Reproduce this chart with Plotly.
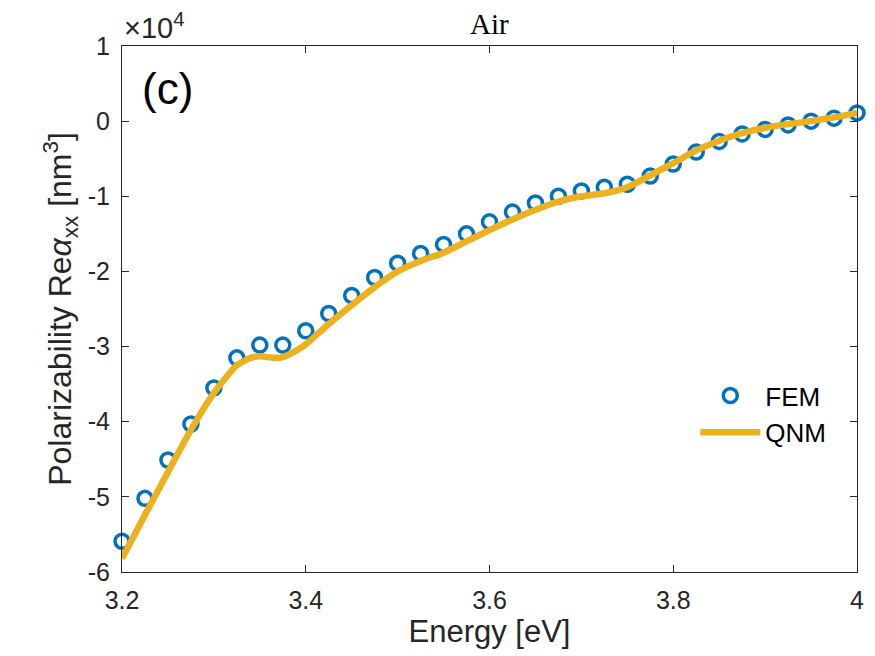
import plotly.graph_objects as go

# FEM samples (energy in eV, Re alpha_xx in units of 1e4 nm^3)
fem_energy = [3.2, 3.225, 3.25, 3.275, 3.3, 3.325, 3.35, 3.375, 3.4, 3.425, 3.45,
              3.475, 3.5, 3.525, 3.55, 3.575, 3.6, 3.625, 3.65, 3.675, 3.7, 3.725,
              3.75, 3.775, 3.8, 3.825, 3.85, 3.875, 3.9, 3.925, 3.95, 3.975, 4.0]
fem_alpha = [-5.59, -5.02, -4.51, -4.03, -3.55, -3.15, -2.98, -2.98, -2.79, -2.56, -2.32,
             -2.08, -1.89, -1.76, -1.64, -1.50, -1.34, -1.21, -1.09, -1.00, -0.93, -0.88,
             -0.84, -0.73, -0.57, -0.41, -0.27, -0.17, -0.11, -0.05, 0.0, 0.04, 0.11]

# QNM curve
qnm_energy = [3.2, 3.225, 3.25, 3.275, 3.3, 3.325, 3.34, 3.35, 3.365, 3.375, 3.39, 3.4,
              3.425, 3.45, 3.475, 3.5, 3.525, 3.55, 3.575, 3.6, 3.625, 3.65, 3.675,
              3.7, 3.725, 3.75, 3.775, 3.8, 3.825, 3.85, 3.875, 3.9, 3.925, 3.95, 3.975, 4.0]
qnm_alpha = [-5.82, -5.24, -4.67, -4.11, -3.62, -3.25, -3.15, -3.13, -3.15, -3.14, -3.05, -2.97,
             -2.70, -2.45, -2.21, -2.00, -1.86, -1.75, -1.60, -1.45, -1.31, -1.18, -1.07,
             -1.00, -0.96, -0.88, -0.72, -0.56, -0.39, -0.26, -0.16, -0.09, -0.04, 0.0, 0.05, 0.11]

x_ticks = [3.2, 3.4, 3.6, 3.8, 4.0]
x_labels = ['3.2', '3.4', '3.6', '3.8', '4']
y_ticks = [-6, -5, -4, -3, -2, -1, 0, 1]
y_labels = ['-6', '-5', '-4', '-3', '-2', '-1', '0', '1']

font_main = 'Liberation Sans, Arial, sans-serif'
ink = '#262626'

fig = go.Figure()
fig.add_trace(go.Scatter(
    x=fem_energy, y=fem_alpha, mode='markers', name='FEM', cliponaxis=False,
    marker=dict(symbol='circle-open', size=14, color='#0072BD', line=dict(width=3.5, color='#0072BD'))
))
fig.add_trace(go.Scatter(
    x=qnm_energy, y=qnm_alpha, mode='lines', name='QNM',
    line=dict(color='#EDB120', width=6.5, shape='spline', smoothing=0.6)
))

axis_style = dict(showline=True, linecolor=ink, linewidth=1.2, mirror='ticks',
                  ticks='inside', ticklen=7, tickcolor=ink, showgrid=False, zeroline=False,
                  tickfont=dict(size=25, color=ink, family=font_main))

fig.update_xaxes(range=[3.2, 4.0], tickvals=x_ticks, ticktext=x_labels, ticklabelstandoff=6,
                 title=dict(text='Energy [eV]', font=dict(size=31, color=ink, family=font_main), standoff=0),
                 **axis_style)
fig.update_yaxes(range=[-6, 1], tickvals=y_ticks, ticktext=y_labels, ticklabelstandoff=6,
                 title=dict(text='Polarizability Re<i>α</i><sub>xx</sub> [nm<sup>3</sup>]',
                            font=dict(size=32, color=ink, family=font_main), standoff=6),
                 **axis_style)

fig.add_annotation(x=0, y=1, xref='paper', yref='paper', xanchor='left', yanchor='bottom',
                   text='×10<sup>4</sup>', showarrow=False, yshift=0,
                   font=dict(size=29, color=ink, family=font_main))
fig.add_annotation(x=0.024, y=0.97, xref='paper', yref='paper', xanchor='left', yanchor='top',
                   text='(c)', showarrow=False,
                   font=dict(size=44, color='black', family=font_main))
fig.add_annotation(x=0.5, y=1, xref='paper', yref='paper', xanchor='center', yanchor='bottom',
                   text='Air', showarrow=False, yshift=4,
                   font=dict(size=29, color='black', family='Liberation Serif, DejaVu Serif, serif'))

fig.update_layout(
    width=875, height=656,
    margin=dict(l=114, r=26, t=38, b=92),
    plot_bgcolor='white', paper_bgcolor='white',
    legend=dict(x=0.78, y=0.38, xanchor='left', yanchor='top', bgcolor='rgba(255,255,255,0)',
                font=dict(size=26, color='black', family=font_main), itemwidth=60),
    showlegend=True,
)

fig.write_html('out.html')
